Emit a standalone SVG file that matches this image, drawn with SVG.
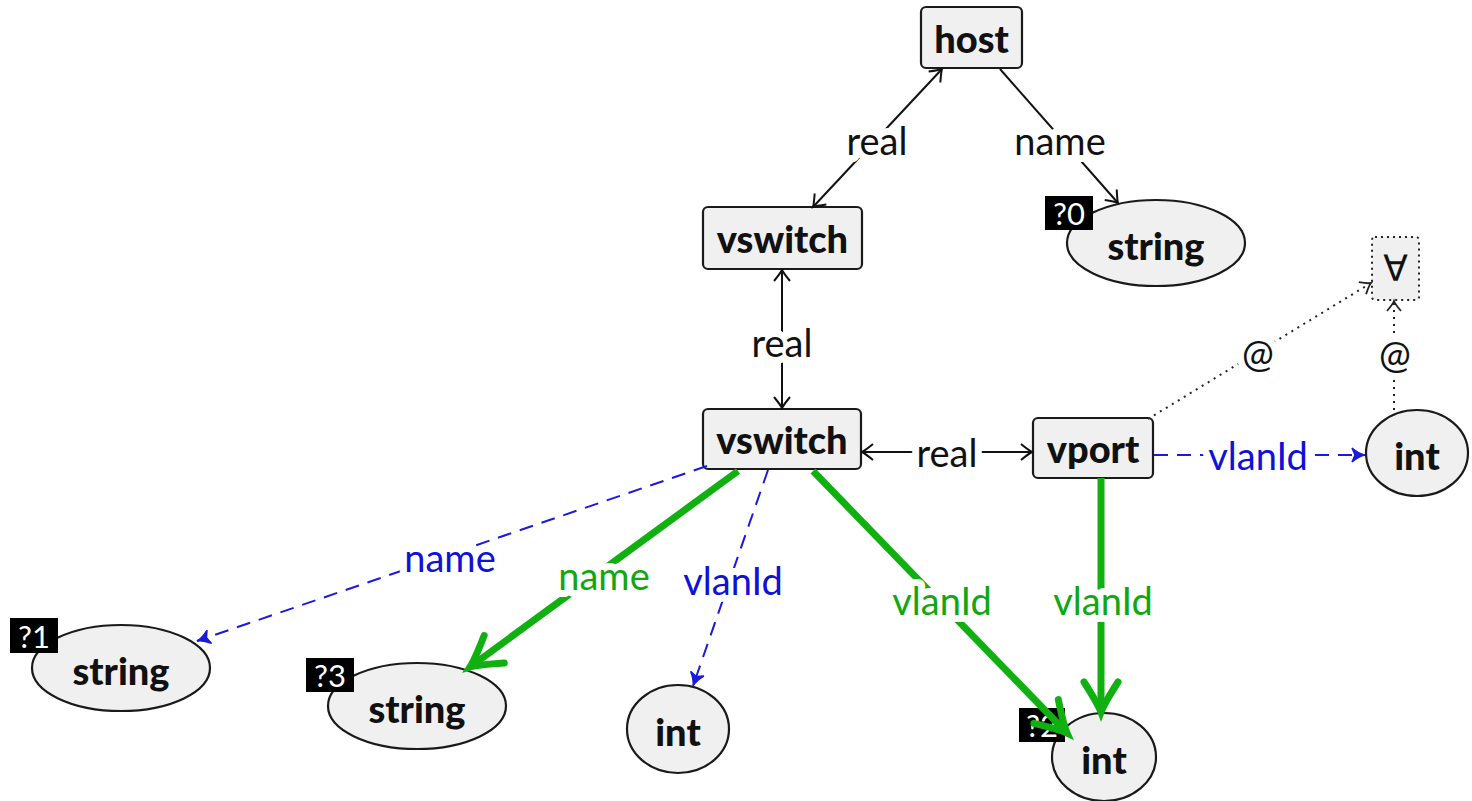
<svg xmlns="http://www.w3.org/2000/svg" width="1472" height="801" viewBox="0 0 1472 801">
<style>
.box{fill:#f0f0f0;stroke:#1a1a1a;stroke-width:2.2}
.ell{fill:#f0f0f0;stroke:#1a1a1a;stroke-width:2.2}
.nt{font-family:Lato,"Open Sans",sans-serif;font-weight:900;font-size:38px;fill:#111;text-anchor:middle;dominant-baseline:central}
.tag{fill:#000}
.tt{font-family:Lato,"Open Sans",sans-serif;font-size:31px;fill:#fff;text-anchor:middle;dominant-baseline:central}
.lb{font-family:Lato,"Open Sans",sans-serif;font-size:38px;text-anchor:middle;dominant-baseline:central;paint-order:stroke;stroke:#fff;stroke-width:14px;stroke-linejoin:round}
.k{fill:#111}.b{fill:#1010d8}.g{fill:#10a810}
.ek{stroke:#111;stroke-width:2;fill:none}
.eb{stroke:#1a1adc;stroke-width:2;stroke-dasharray:14 9;fill:none}
.eg{stroke:#10b010;stroke-width:7;fill:none}
.ed{stroke:#222;stroke-width:2;stroke-dasharray:2 5;fill:none}
marker{overflow:visible}
</style>
<defs>
<marker id="ak" markerUnits="userSpaceOnUse" markerWidth="30" markerHeight="30" viewBox="-15 -15 30 30" refX="0" refY="0" orient="auto-start-reverse">
<path d="M-11,-8 Q-3,-1.5 0,0 Q-3,1.5 -11,8" stroke="#111" stroke-width="2" fill="none"/>
</marker>
<marker id="ab" markerUnits="userSpaceOnUse" markerWidth="30" markerHeight="30" viewBox="-15 -15 30 30" refX="0" refY="0" orient="auto">
<path d="M-13,-7 Q-6,-1 0,0 Q-6,1 -13,7 L-10,0 Z" fill="#1a1adc" stroke="#1a1adc" stroke-width="1.5"/>
</marker>
<marker id="ag" markerUnits="userSpaceOnUse" markerWidth="70" markerHeight="70" viewBox="-35 -35 70 70" refX="0" refY="0" orient="auto">
<path d="M-30,-17 Q-8,-3 0,0 Q-8,3 -30,17" stroke="#10b010" stroke-width="7" fill="none" stroke-linecap="round"/>
</marker>
<marker id="ad" markerUnits="userSpaceOnUse" markerWidth="30" markerHeight="30" viewBox="-15 -15 30 30" refX="0" refY="0" orient="auto">
<path d="M-10,-7 Q-3,-1 0,0 Q-3,1 -10,7" stroke="#222" stroke-width="1.8" fill="none"/>
</marker>
</defs>
<rect width="1472" height="801" fill="#fff"/>
<g id="host"><rect class="box" x="921" y="7" width="101" height="61" rx="5"/><text class="nt" x="971.5" y="38">host</text></g>
<g id="vswitch1"><rect class="box" x="703" y="207" width="159" height="62" rx="5"/><text class="nt" x="782.5" y="238">vswitch</text></g>
<g id="vswitch2"><rect class="box" x="703" y="409" width="158" height="60" rx="5"/><text class="nt" x="782" y="439">vswitch</text></g>
<g id="vport"><rect class="box" x="1033" y="418" width="120" height="60" rx="5"/><text class="nt" x="1093" y="448">vport</text></g>
<g id="forall"><rect x="1372" y="237" width="47" height="63" rx="3" fill="#f0f0f0" stroke="#222" stroke-width="2" stroke-dasharray="2 4"/><text x="1395.5" y="268" font-family="DejaVu Sans,sans-serif" font-size="36" fill="#111" text-anchor="middle" dominant-baseline="central">∀</text></g>
<g id="string0"><ellipse class="ell" cx="1156" cy="243" rx="89" ry="43"/><text class="nt" x="1156" y="245">string</text><rect class="tag" x="1045" y="196" width="48" height="34"/><text class="tt" x="1069" y="213">?0</text></g>
<g id="intR"><ellipse class="ell" cx="1417" cy="453" rx="51" ry="43"/><text class="nt" x="1417" y="455">int</text></g>
<g id="string1"><ellipse class="ell" cx="121" cy="668" rx="89" ry="43"/><text class="nt" x="121" y="670">string</text><rect class="tag" x="10" y="618" width="48" height="35"/><text class="tt" x="34" y="635.5">?1</text></g>
<g id="string3"><ellipse class="ell" cx="417" cy="706" rx="89" ry="43"/><text class="nt" x="417" y="708">string</text><rect class="tag" x="306" y="658" width="48" height="34"/><text class="tt" x="330" y="675">?3</text></g>
<g id="intM"><ellipse class="ell" cx="678" cy="729" rx="51" ry="44"/><text class="nt" x="678" y="731">int</text></g>
<g id="int2"><ellipse class="ell" cx="1104" cy="757" rx="52" ry="44"/><text class="nt" x="1104" y="759">int</text><rect class="tag" x="1019" y="708" width="46" height="34"/><text class="tt" x="1042" y="725">?2</text></g>
<g id="connectors">
<line class="ek" x1="813" y1="207" x2="942" y2="69" marker-start="url(#ak)" marker-end="url(#ak)"/>
<line class="ek" x1="1000" y1="69" x2="1118" y2="203" marker-end="url(#ak)"/>
<line class="ek" x1="782" y1="270" x2="782" y2="408" marker-start="url(#ak)" marker-end="url(#ak)"/>
<line class="ek" x1="862" y1="452" x2="1032" y2="452" marker-start="url(#ak)" marker-end="url(#ak)"/>
<line class="eb" x1="1154" y1="455" x2="1365" y2="455" marker-end="url(#ab)"/>
<line class="ed" x1="1148" y1="419" x2="1371" y2="283" marker-end="url(#ad)"/>
<line class="ed" x1="1394" y1="410" x2="1394" y2="301" marker-end="url(#ad)"/>
<line class="eb" x1="707" y1="466" x2="197" y2="641" marker-end="url(#ab)"/>
<line class="eg" x1="738" y1="471" x2="470" y2="667" marker-end="url(#ag)"/>
<line class="eb" x1="768" y1="470" x2="693" y2="686" marker-end="url(#ab)"/>
<line class="eg" x1="813" y1="471" x2="1067" y2="733" marker-end="url(#ag)"/>
<line class="eg" x1="1101" y1="478" x2="1101" y2="712" marker-end="url(#ag)"/>
<text class="lb k" x="877" y="140">real</text>
<text class="lb k" x="1060" y="140">name</text>
<text class="lb k" x="782" y="342">real</text>
<text class="lb k" x="947" y="452">real</text>
<text class="lb b" x="1258" y="455">vlanId</text>
<text class="lb k" x="1258" y="352">@</text>
<text class="lb k" x="1395" y="353">@</text>
<text class="lb b" x="450" y="557">name</text>
<text class="lb g" x="604" y="575">name</text>
<text class="lb b" x="733" y="580">vlanId</text>
<text class="lb g" x="942" y="600">vlanId</text>
<text class="lb g" x="1103" y="600">vlanId</text>
</g>
</svg>
